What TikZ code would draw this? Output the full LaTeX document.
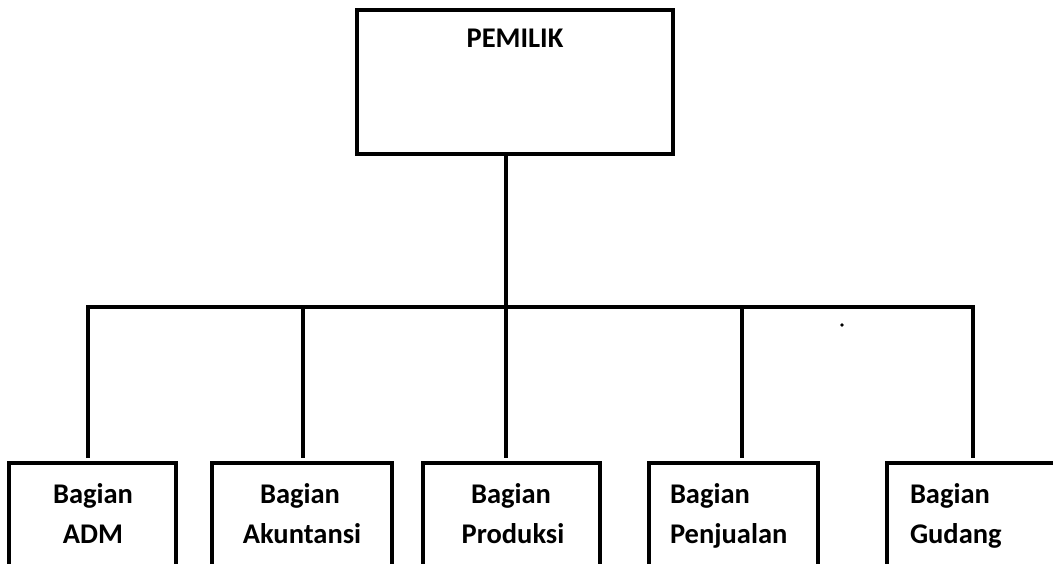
\documentclass[tikz,border=0pt]{standalone}
\usepackage{fontspec}
\setmainfont{Carlito}
\begin{document}
\begin{tikzpicture}[x=1pt,y=-1pt,
  box/.style={draw, line width=3.1pt, inner sep=0pt, outer sep=0pt},
  lbl/.style={font=\bfseries\fontsize{28.5}{40}\selectfont, inner sep=0pt, outer sep=0pt},
  link/.style={line width=3.4pt, line join=miter}]
\useasboundingbox (0,0) rectangle (1053,564);
\clip (0,0) rectangle (1053,564);

% owner box
\node[box, minimum width=316pt, minimum height=144pt] (owner) at (515,82) {};
\node[lbl, anchor=base] (ownerT) at (515,48) {PEMILIK};

% department boxes (their lower edges run off the page)
\node[box, minimum width=167pt, minimum height=130pt] (adm)  at (92.5,528) {};
\node[box, minimum width=180pt, minimum height=130pt] (akt)  at (302,528) {};
\node[box, minimum width=177pt, minimum height=130pt] (prod) at (511.5,528) {};
\node[box, minimum width=169pt, minimum height=130pt] (penj) at (733.5,528) {};
\node[box, minimum width=180pt, minimum height=130pt] (gud)  at (977,528) {};

% department labels
\node[lbl, anchor=base] (admA)  at (93,503)  {Bagian};
\node[lbl, anchor=base] (admB)  at (93,543)  {ADM};
\node[lbl, anchor=base] (aktA)  at (300,503) {Bagian};
\node[lbl, anchor=base] (aktB)  at (302,543) {Akuntansi};
\node[lbl, anchor=base] (prodA) at (511,503) {Bagian};
\node[lbl, anchor=base] (prodB) at (513,543) {Produksi};
\node[lbl, anchor=base west] (penjA) at (670,503) {Bagian};
\node[lbl, anchor=base west] (penjB) at (670,543) {Penjualan};
\node[lbl, anchor=base west] (gudA)  at (910,503) {Bagian};
\node[lbl, anchor=base west] (gudB)  at (910,543) {Gudang};

% bus line and drop points
\coordinate (d1) at (88,307);
\coordinate (d2) at (303,307);
\coordinate (d3) at (506,307);
\coordinate (d4) at (742,307);
\coordinate (d5) at (973,307);

\draw[link] (d3 |- owner.south) -- (d3);
\draw[link, shorten <=5pt, shorten >=5pt]
  (d1 |- adm.north) -- (d1) -- (d5) -- (d5 |- gud.north);
\draw[link, shorten >=5pt] (d2) -- (d2 |- akt.north);
\draw[link, shorten >=5pt] (d3) -- (d3 |- prod.north);
\draw[link, shorten >=5pt] (d4) -- (d4 |- penj.north);

% small speck
\fill (842,325) circle (1.8pt);
\end{tikzpicture}
\end{document}
